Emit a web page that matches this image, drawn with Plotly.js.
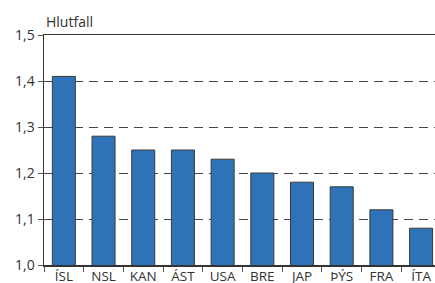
<!DOCTYPE html>
<html><head><meta charset="utf-8">
<script src="https://cdn.plot.ly/plotly-3.0.1.min.js"></script>
<style>html,body{margin:0;padding:0;overflow:hidden;background:#fff}</style>
</head><body><div id="chart" style="width:435px;height:283px"></div>
<script>
const categories = ["ÍSL","NSL","KAN","ÁST","USA","BRE","JAP","ÞÝS","FRA","ÍTA"];
const values = [1.41,1.28,1.25,1.25,1.23,1.20,1.18,1.17,1.12,1.08];
const yTickVals = [1.0,1.1,1.2,1.3,1.4,1.5];
const yTickText = ["1,0","1,1","1,2","1,3","1,4","1,5"];
const yTitle = "Hlutfall";

const trace = {
  type: "bar", x: categories, y: values,
  marker: {color: "#2e73b8", line: {color: "#3a3a3a", width: 1}},
  hoverinfo: "none"
};
const layout = {
  width: 435, height: 283,
  margin: {l: 44, r: 0, t: 35, b: 18, pad: 0},
  paper_bgcolor: "#fff", plot_bgcolor: "#fff",
  font: {family: "Open Sans, sans-serif", size: 13, color: "#333"},
  showlegend: false,
  bargap: 0.42,
  xaxis: {
    type: "category", range: [-0.5, 9.35],
    showline: true, linecolor: "#333", linewidth: 1.5, mirror: true,
    ticks: "outside", tickson: "boundaries", ticklen: 5, tickcolor: "#555", tickwidth: 1,
    ticklabelstandoff: -2,
    showgrid: false, zeroline: false, automargin: false,
    tickfont: {size: 13.5, color: "#333"}
  },
  yaxis: {
    range: [1.0, 1.5], tickvals: yTickVals, ticktext: yTickText,
    showline: true, linecolor: "#333", linewidth: 1.5,
    ticks: "outside", ticklen: 5, tickcolor: "#555", tickwidth: 1,
    showgrid: true, gridcolor: "#444", gridwidth: 1, griddash: "9px,6px",
    zeroline: false, automargin: false,
    tickfont: {size: 14, color: "#333"}
  },
  annotations: [{
    text: yTitle, xref: "paper", yref: "paper", x: 0.0, y: 1.0,
    xanchor: "left", yanchor: "bottom", yshift: 2, showarrow: false,
    font: {size: 14, color: "#333"}
  }]
};
Plotly.newPlot("chart", [trace], layout, {staticPlot: true, displayModeBar: false});
</script></body></html>
